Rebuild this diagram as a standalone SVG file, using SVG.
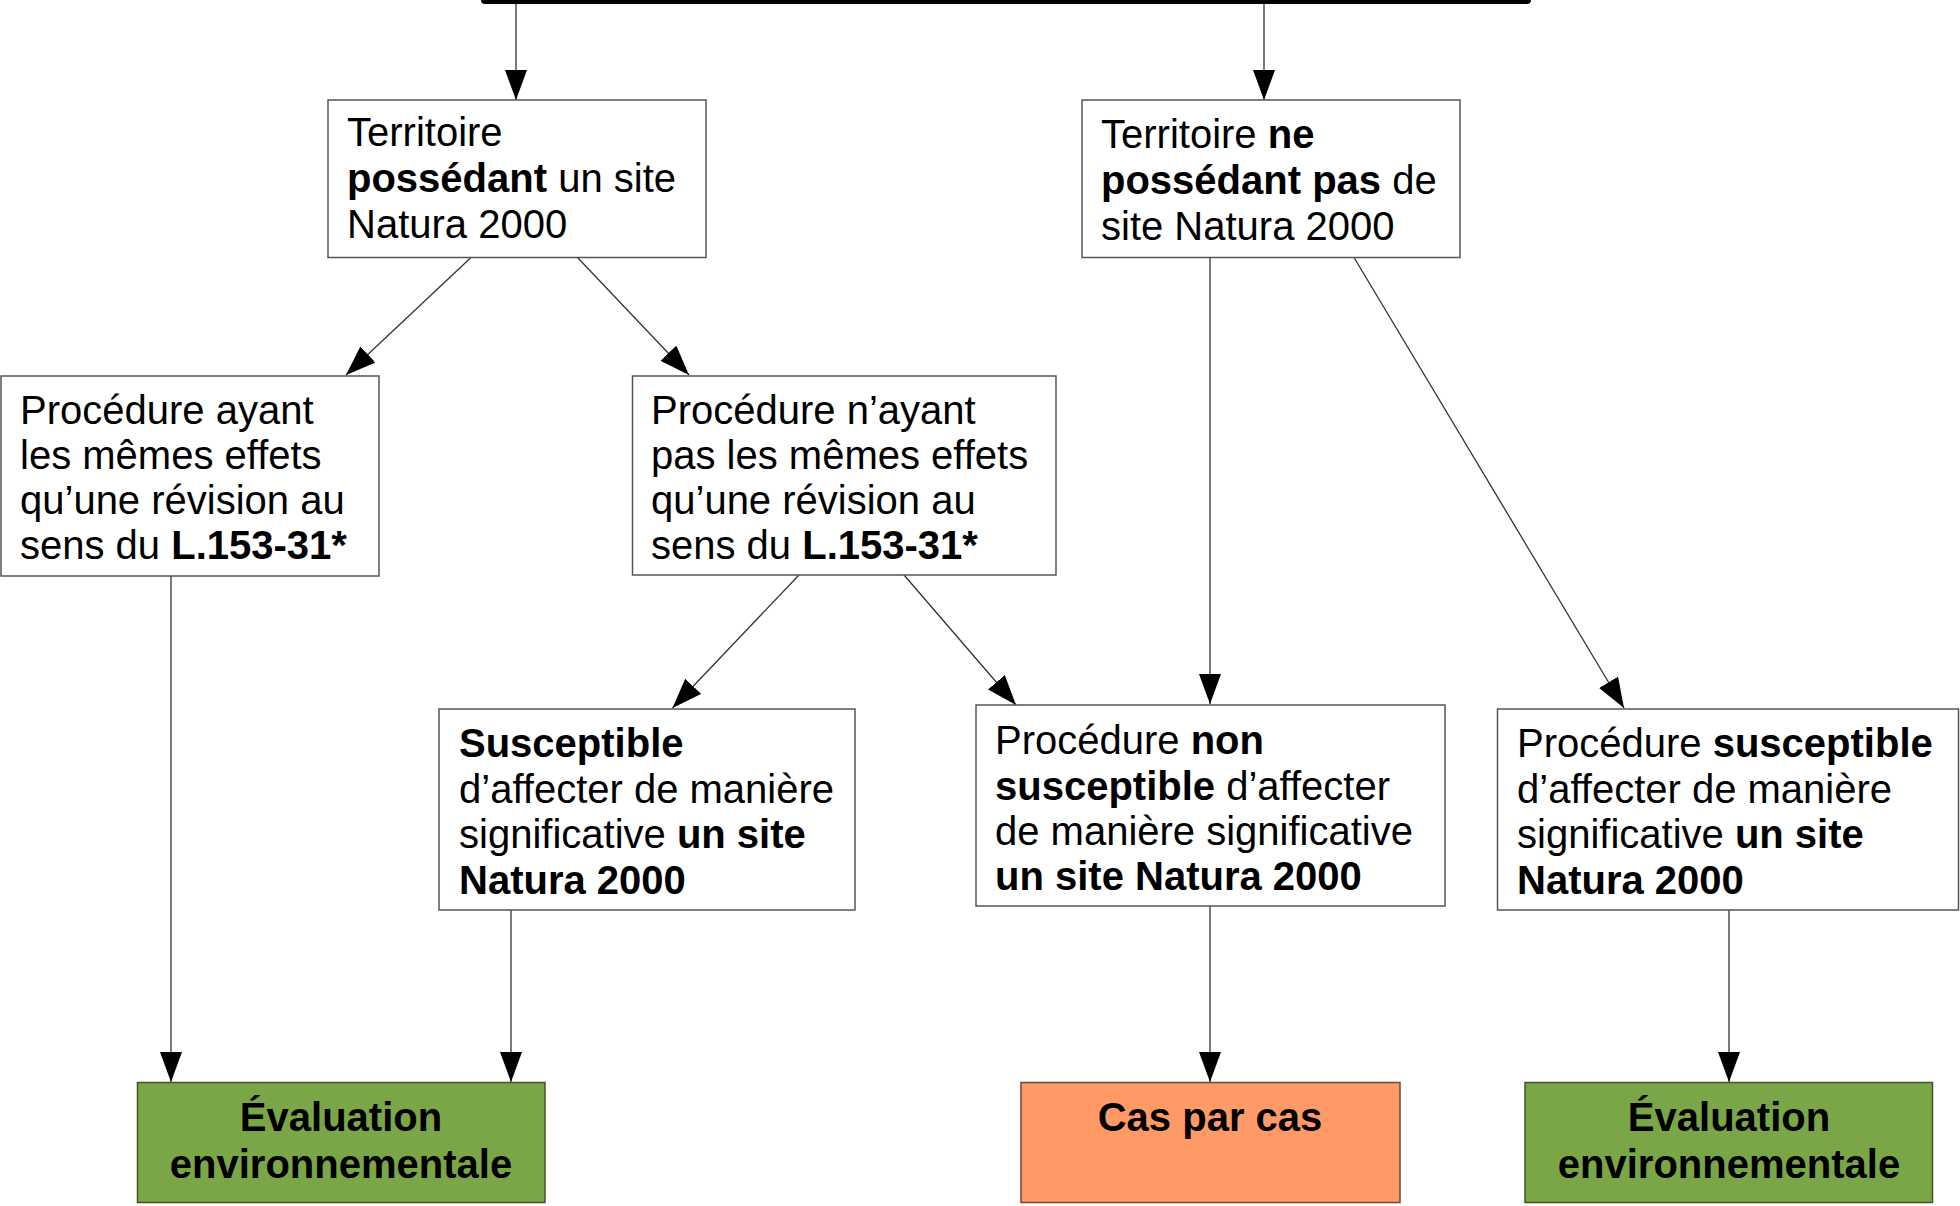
<svg xmlns="http://www.w3.org/2000/svg" width="1960" height="1206" viewBox="0 0 1960 1206">
<defs>
<marker id="arr" markerUnits="userSpaceOnUse" markerWidth="32" markerHeight="24" refX="30" refY="11" orient="auto">
<path d="M0,0 L30,11 L0,22 Z" fill="#000"/>
</marker>
<style>
.box{fill:#fff;stroke:#555;stroke-width:1.5}
.green{fill:#7ba647;stroke:#3f5527;stroke-width:1.5}
.orange{fill:#ff9966;stroke:#6a4a3a;stroke-width:1.5}
text{font-family:"Liberation Sans",Arial,sans-serif;font-size:40px;fill:#000}
.b{font-weight:bold}
.c{text-anchor:middle;font-weight:bold}
.conn line{stroke:#333;stroke-width:1.3;marker-end:url(#arr)}
</style>
</defs>
<rect width="1960" height="1206" fill="#fff"/>
<rect x="481" y="-12" width="1050" height="16" rx="4" fill="#000"/>
<g id="connectors" class="conn">
<line x1="516" y1="4" x2="516" y2="100"/>
<line x1="1264" y1="4" x2="1264" y2="100"/>
<line x1="471" y1="257.5" x2="346" y2="375"/>
<line x1="577.5" y1="257.5" x2="689" y2="375"/>
<line x1="799" y1="575" x2="672.5" y2="708"/>
<line x1="904" y1="575" x2="1016" y2="705"/>
<line x1="1210" y1="257.5" x2="1210" y2="704"/>
<line x1="1354" y1="257.5" x2="1624" y2="708"/>
<line x1="171" y1="576" x2="171" y2="1082"/>
<line x1="511" y1="910" x2="511" y2="1082"/>
<line x1="1210" y1="906" x2="1210" y2="1082"/>
<line x1="1729" y1="910" x2="1729" y2="1082"/>
</g>
<g id="n1">
<rect class="box" x="328" y="100" width="378" height="157.5"/>
<text x="347" y="146">Territoire</text>
<text x="347" y="192"><tspan class="b">possédant</tspan> un site</text>
<text x="347" y="238">Natura 2000</text>
</g>
<g id="n2">
<rect class="box" x="1082" y="100" width="378" height="157.5"/>
<text x="1101" y="148">Territoire <tspan class="b">ne</tspan></text>
<text x="1101" y="194"><tspan class="b">possédant pas</tspan> de</text>
<text x="1101" y="240">site Natura 2000</text>
</g>
<g id="n3">
<rect class="box" x="1" y="376" width="378" height="200"/>
<text x="20" y="424">Procédure ayant</text>
<text x="20" y="469">les mêmes effets</text>
<text x="20" y="514">qu’une révision au</text>
<text x="20" y="559">sens du <tspan class="b">L.153-31*</tspan></text>
</g>
<g id="n4">
<rect class="box" x="632.5" y="376" width="423.5" height="199"/>
<text x="651" y="424">Procédure n’ayant</text>
<text x="651" y="469">pas les mêmes effets</text>
<text x="651" y="514">qu’une révision au</text>
<text x="651" y="559">sens du <tspan class="b">L.153-31*</tspan></text>
</g>
<g id="n5">
<rect class="box" x="439" y="709" width="416" height="201"/>
<text x="459" y="757" class="b">Susceptible</text>
<text x="459" y="803">d’affecter de manière</text>
<text x="459" y="848">significative <tspan class="b">un site</tspan></text>
<text x="459" y="894" class="b">Natura 2000</text>
</g>
<g id="n6">
<rect class="box" x="976" y="705" width="469" height="201"/>
<text x="995" y="754">Procédure <tspan class="b">non</tspan></text>
<text x="995" y="800"><tspan class="b">susceptible</tspan> d’affecter</text>
<text x="995" y="845">de manière significative</text>
<text x="995" y="890" class="b">un site Natura 2000</text>
</g>
<g id="n7">
<rect class="box" x="1497.5" y="709" width="461" height="201"/>
<text x="1517" y="757">Procédure <tspan class="b">susceptible</tspan></text>
<text x="1517" y="803">d’affecter de manière</text>
<text x="1517" y="848">significative <tspan class="b">un site</tspan></text>
<text x="1517" y="894" class="b">Natura 2000</text>
</g>
<g id="n8">
<rect class="green" x="137.5" y="1082.5" width="407.5" height="120"/>
<text x="341" y="1131" class="c">Évaluation</text>
<text x="341" y="1178" class="c">environnementale</text>
</g>
<g id="n9">
<rect class="orange" x="1021" y="1082.5" width="379" height="120"/>
<text x="1210" y="1131" class="c">Cas par cas</text>
</g>
<g id="n10">
<rect class="green" x="1525" y="1082.5" width="407.5" height="120"/>
<text x="1729" y="1131" class="c">Évaluation</text>
<text x="1729" y="1178" class="c">environnementale</text>
</g>
</svg>
